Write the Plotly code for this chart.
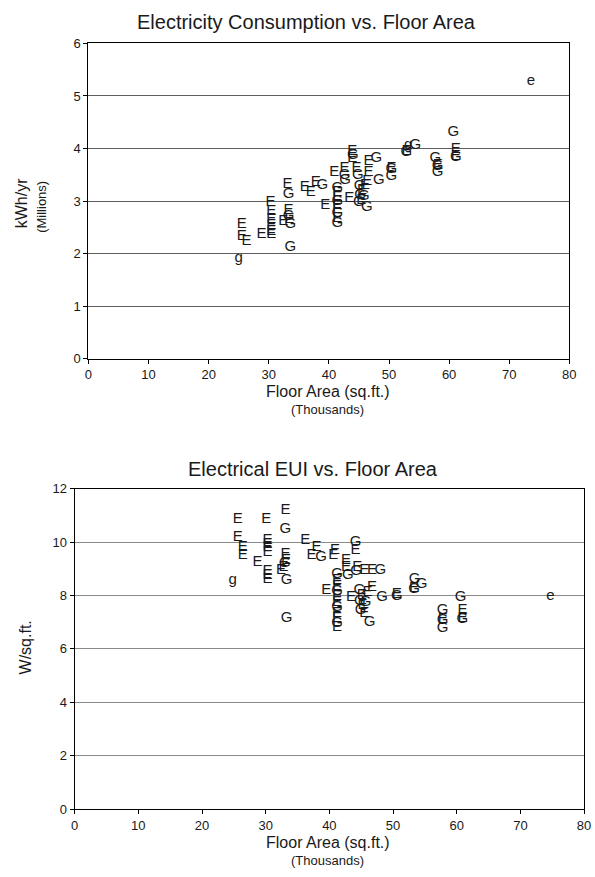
import plotly.graph_objects as go

W, H = 595, 877

# ---------------- data: top chart (kWh/yr, millions) ----------------
top_x = [25.0, 25.5, 25.5, 26.3, 28.8, 30.3, 30.4, 30.4, 30.4, 30.4, 30.4,
         33.1, 33.3, 33.3, 33.3, 33.4, 32.4, 33.6, 33.6, 36.0, 37.0, 37.8, 38.9, 39.4,
         41.4, 41.4, 41.4, 41.4, 41.4, 41.4, 41.4, 41.4, 41.4,
         43.9, 43.9, 44.0, 40.9, 42.6, 42.7, 42.6, 44.6, 44.8, 46.6, 47.9, 46.6, 48.3, 43.4,
         45.1, 45.5, 45.2, 46.0, 45.4, 45.0, 45.8, 46.4, 46.3,
         50.4, 50.4, 50.4, 53.2, 54.4, 52.9, 52.9,
         57.7, 58.1, 58.1, 58.1, 60.7, 61.1, 61.1, 61.1, 73.6]
top_y = [1.91, 2.56, 2.33, 2.24, 2.37, 2.98, 2.80, 2.65, 2.54, 2.43, 2.37,
         3.33, 3.13, 2.82, 2.72, 2.66, 2.61, 2.56, 2.13, 3.26, 3.17, 3.35, 3.30, 2.93,
         3.24, 3.16, 3.08, 3.00, 2.92, 2.84, 2.76, 2.67, 2.58,
         3.94, 3.81, 3.87, 3.54, 3.63, 3.39, 3.50, 3.63, 3.50, 3.76, 3.81, 3.55, 3.39, 3.06,
         3.28, 3.20, 3.12, 3.30, 3.02, 2.97, 3.10, 3.38, 2.89,
         3.62, 3.60, 3.48, 4.06, 4.06, 3.94, 3.92,
         3.81, 3.69, 3.67, 3.54, 4.30, 3.99, 3.86, 3.84, 5.28]
top_lbl = ["g", "E", "E", "E", "E", "E", "E", "E", "E", "E", "E",
           "E", "G", "E", "G", "E", "E", "G", "G", "E", "E", "E", "G", "E",
           "G", "E", "E", "G", "E", "E", "G", "E", "G",
           "E", "E", "G", "E", "E", "G", "G", "E", "G", "E", "G", "E", "G", "E",
           "G", "E", "G", "E", "E", "G", "G", "E", "G",
           "E", "G", "G", "g", "G", "E", "G",
           "G", "E", "G", "G", "G", "E", "E", "G", "e"]

# ---------------- data: bottom chart (W/sq.ft.) ----------------
bot_x = [24.8, 25.6, 25.6, 26.4, 26.4, 28.7, 30.1, 30.3, 30.3, 30.3, 30.3, 30.3, 30.3, 30.3,
         33.1, 33.1, 33.1, 33.2, 33.0, 32.8, 32.4, 33.3, 33.3,
         36.2, 38.0, 37.2, 38.7, 40.6, 40.9, 39.5,
         41.2, 41.2, 41.2, 41.2, 41.2, 41.2, 41.2, 41.2, 41.2, 41.2, 41.2,
         44.1, 44.1, 42.6, 42.6, 42.9, 44.4, 44.2, 45.5, 46.7, 48.0, 43.4,
         44.7, 45.1, 44.8, 45.2, 44.9, 45.5, 46.0, 45.7,
         46.7, 48.3, 46.3, 50.6, 50.6, 53.4, 54.5, 53.3, 53.3,
         57.8, 57.8, 57.8, 57.8, 60.6, 60.9, 60.9, 60.9, 74.7]
bot_y = [8.58, 10.86, 10.19, 9.81, 9.50, 9.25, 10.86, 10.07, 9.93, 9.80, 9.62, 8.90, 8.75, 8.62,
         11.20, 10.49, 9.55, 9.32, 9.20, 9.05, 8.95, 8.58, 7.13,
         10.07, 9.81, 9.51, 9.44, 9.51, 9.70, 8.21,
         8.78, 8.55, 8.35, 8.15, 7.95, 7.75, 7.55, 7.35, 7.15, 6.95, 6.80,
         10.00, 9.70, 9.33, 9.07, 8.77, 9.07, 8.90, 8.95, 8.95, 8.95, 7.94,
         8.20, 8.00, 7.80, 7.62, 7.45, 7.35, 8.10, 7.75,
         8.32, 7.94, 7.01, 8.05, 7.95, 8.62, 8.43, 8.27, 8.23,
         7.45, 7.12, 7.08, 6.76, 7.92, 7.46, 7.14, 7.10, 7.97]
bot_lbl = ["g", "E", "E", "E", "E", "E", "E", "E", "E", "E", "E", "E", "E", "E",
           "E", "G", "E", "E", "G", "E", "E", "G", "G",
           "E", "E", "E", "G", "E", "E", "E",
           "G", "E", "E", "G", "E", "E", "G", "E", "E", "G", "E",
           "G", "E", "E", "E", "G", "E", "G", "E", "E", "G", "E",
           "G", "E", "G", "E", "G", "E", "E", "G",
           "E", "G", "G", "E", "G", "G", "G", "E", "G",
           "G", "E", "G", "G", "G", "E", "E", "G", "e"]

x_ticks = [0, 10, 20, 30, 40, 50, 60, 70, 80]
top_yticks = [0, 1, 2, 3, 4, 5, 6]
bot_yticks = [0, 2, 4, 6, 8, 10, 12]

FONT = "Liberation Sans, Arial, Helvetica, sans-serif"
INK = "#1a1a1a"


def px(x):
    return x / W


def py(y):
    return 1 - y / H


fig = go.Figure()
fig.add_trace(go.Scatter(x=top_x, y=top_y, text=top_lbl, mode="text",
                         textfont=dict(family=FONT, size=15, color=INK),
                         xaxis="x", yaxis="y", showlegend=False, hoverinfo="skip"))
fig.add_trace(go.Scatter(x=bot_x, y=bot_y, text=bot_lbl, mode="text",
                         textfont=dict(family=FONT, size=15, color=INK),
                         xaxis="x2", yaxis="y2", showlegend=False, hoverinfo="skip"))

axis_common = dict(showline=True, linecolor="black", linewidth=1, mirror=True,
                   ticks="outside", ticklen=4, tickcolor="black",
                   tickfont=dict(family=FONT, size=13, color=INK), zeroline=False)

fig.update_layout(
    width=W, height=H, margin=dict(l=0, r=0, t=0, b=0),
    paper_bgcolor="white", plot_bgcolor="white",
    xaxis=dict(domain=[px(86), px(576)], range=[0, 80], tickvals=x_ticks,
               showgrid=False, anchor="y", **axis_common),
    yaxis=dict(domain=[py(358), py(37)], range=[0, 6], tickvals=top_yticks,
               showgrid=True, gridcolor="#5e5e5e", gridwidth=1, anchor="x", **axis_common),
    xaxis2=dict(domain=[px(72), px(591)], range=[0, 80], tickvals=x_ticks,
                showgrid=False, anchor="y2", **axis_common),
    yaxis2=dict(domain=[py(816), py(490)], range=[0, 12], tickvals=bot_yticks,
                showgrid=True, gridcolor="#8a8a8a", gridwidth=1, anchor="x2", **axis_common),
)

ann = [
    dict(text="Electricity Consumption vs. Floor Area", x=px(308), y=py(15), size=20),
    dict(text="Electrical EUI vs. Floor Area", x=px(315), y=py(470), size=20),
    dict(text="Floor Area (sq.ft.)", x=px(330), y=py(391), size=16),
    dict(text="(Thousands)", x=px(330), y=py(410), size=13),
    dict(text="Floor Area (sq.ft.)", x=px(330), y=py(850), size=16),
    dict(text="(Thousands)", x=px(330), y=py(868), size=13),
]
annotations = []
for a in ann:
    annotations.append(dict(text=a["text"], x=a["x"], y=a["y"], xref="paper", yref="paper",
                            showarrow=False, xanchor="center", yanchor="middle",
                            font=dict(family=FONT, size=a["size"], color=INK)))
for text, x, y, size in [("kWh/yr", 18, 200, 16), ("(Millions)", 38, 203, 13),
                         ("W/sq.ft.", 22, 652, 16)]:
    annotations.append(dict(text=text, x=px(x), y=py(y), xref="paper", yref="paper",
                            showarrow=False, textangle=-90, xanchor="center", yanchor="middle",
                            font=dict(family=FONT, size=size, color=INK)))
fig.update_layout(annotations=annotations)

fig.write_html("out.html")
